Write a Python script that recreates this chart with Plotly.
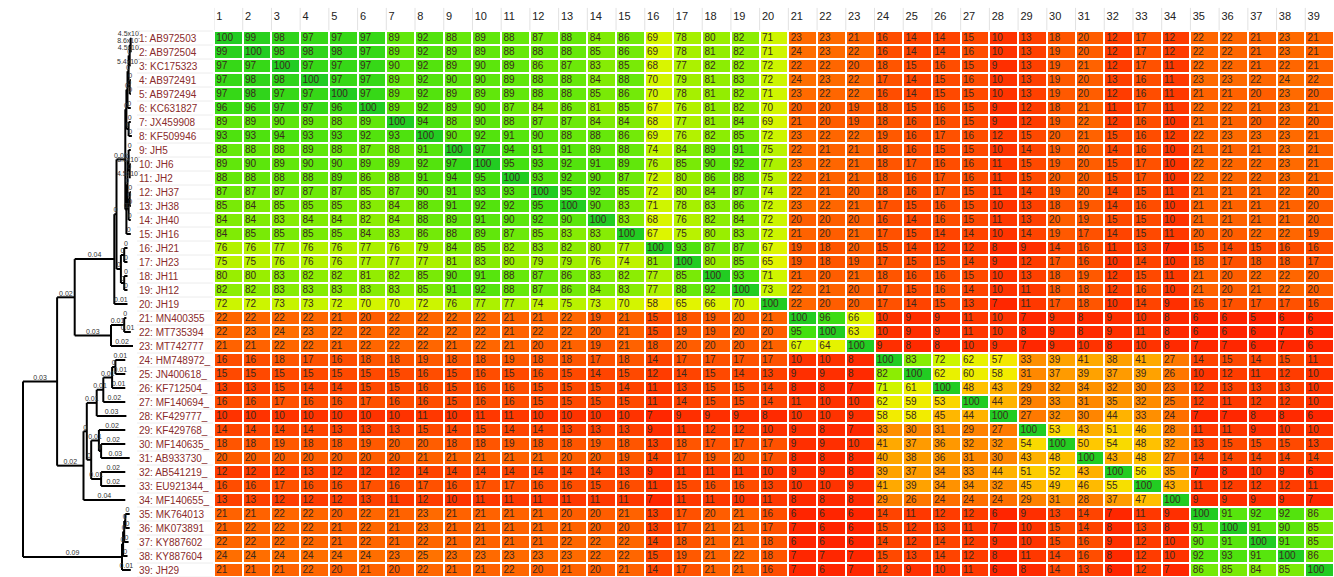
import numpy as np
import plotly.graph_objects as go

# ---------------------------------------------------------------- data
labels = [
    "1: AB972503", "2: AB972504", "3: KC175323", "4: AB972491", "5: AB972494",
    "6: KC631827", "7: JX459908", "8: KF509946", "9: JH5", "10: JH6",
    "11: JH2", "12: JH37", "13: JH38", "14: JH40", "15: JH16",
    "16: JH21", "17: JH23", "18: JH11", "19: JH12", "20: JH19",
    "21: MN400355", "22: MT735394", "23: MT742777", "24: HM748972_", "25: JN400618_",
    "26: KF712504_", "27: MF140694_", "28: KF429777_", "29: KF429768_", "30: MF140635_",
    "31: AB933730_", "32: AB541219_", "33: EU921344_", "34: MF140655_", "35: MK764013",
    "36: MK073891", "37: KY887602", "38: KY887604", "39: JH29",
]

column_numbers = list(range(1, 40))

identity = [
    [100, 99, 98, 97, 97, 97, 89, 92, 88, 89, 88, 87, 88, 84, 86, 69, 78, 80, 82, 71, 23, 23, 21, 16, 14, 14, 15, 10, 13, 18, 20, 12, 17, 12, 22, 22, 21, 23, 21],
    [99, 100, 98, 98, 98, 97, 89, 92, 89, 89, 88, 88, 88, 85, 86, 69, 78, 81, 82, 71, 24, 23, 22, 16, 14, 14, 16, 10, 13, 19, 20, 12, 17, 12, 22, 22, 21, 23, 21],
    [97, 97, 100, 97, 97, 97, 90, 92, 89, 90, 89, 86, 87, 83, 85, 68, 77, 82, 82, 72, 22, 22, 20, 18, 15, 16, 15, 9, 13, 19, 21, 12, 17, 11, 22, 22, 21, 22, 21],
    [97, 98, 98, 100, 97, 97, 89, 92, 90, 90, 89, 88, 88, 84, 88, 70, 79, 81, 83, 72, 24, 23, 22, 17, 14, 15, 16, 10, 13, 19, 20, 13, 16, 11, 23, 23, 22, 24, 22],
    [97, 98, 97, 97, 100, 97, 89, 92, 89, 89, 89, 88, 88, 85, 86, 70, 78, 81, 82, 71, 23, 22, 22, 16, 14, 15, 15, 10, 13, 19, 20, 12, 16, 11, 21, 21, 20, 23, 20],
    [96, 96, 97, 97, 96, 100, 89, 92, 89, 90, 87, 84, 86, 81, 85, 67, 76, 81, 82, 70, 20, 20, 19, 18, 15, 16, 15, 9, 12, 18, 21, 11, 17, 11, 22, 22, 21, 23, 21],
    [89, 89, 90, 89, 88, 89, 100, 94, 88, 90, 88, 87, 87, 84, 84, 68, 77, 81, 84, 69, 21, 20, 19, 18, 16, 16, 15, 9, 12, 19, 22, 12, 16, 10, 21, 21, 20, 22, 20],
    [93, 93, 94, 93, 93, 92, 93, 100, 90, 92, 91, 90, 88, 88, 86, 69, 76, 82, 85, 72, 23, 22, 22, 19, 16, 17, 16, 12, 15, 20, 21, 15, 16, 12, 22, 23, 23, 23, 21],
    [88, 88, 88, 89, 88, 87, 88, 91, 100, 97, 94, 91, 91, 89, 88, 74, 84, 89, 91, 75, 22, 21, 21, 18, 16, 15, 15, 10, 14, 19, 20, 14, 16, 10, 21, 21, 21, 23, 21],
    [89, 90, 89, 90, 90, 89, 89, 92, 97, 100, 95, 93, 92, 91, 89, 76, 85, 90, 92, 77, 23, 22, 21, 18, 17, 16, 16, 11, 15, 19, 20, 15, 17, 10, 22, 22, 22, 23, 21],
    [88, 88, 88, 88, 89, 86, 88, 91, 94, 95, 100, 93, 92, 90, 87, 72, 80, 86, 88, 75, 22, 21, 21, 18, 16, 17, 16, 11, 15, 20, 20, 15, 17, 10, 22, 22, 22, 23, 21],
    [87, 87, 87, 87, 87, 85, 87, 90, 91, 93, 93, 100, 95, 92, 85, 72, 80, 84, 87, 74, 22, 21, 20, 18, 16, 17, 15, 11, 14, 19, 20, 14, 15, 11, 21, 21, 21, 22, 20],
    [85, 84, 85, 85, 85, 83, 84, 88, 91, 92, 92, 95, 100, 90, 83, 71, 78, 83, 86, 72, 23, 22, 21, 17, 15, 16, 15, 10, 13, 18, 19, 14, 16, 10, 21, 21, 21, 21, 20],
    [84, 84, 83, 84, 84, 82, 84, 88, 89, 91, 90, 92, 90, 100, 83, 68, 76, 82, 84, 72, 20, 20, 20, 16, 14, 16, 15, 11, 13, 20, 19, 15, 15, 10, 21, 21, 21, 21, 20],
    [84, 85, 85, 85, 85, 84, 83, 86, 88, 89, 87, 85, 83, 83, 100, 67, 75, 80, 83, 72, 21, 20, 21, 17, 15, 14, 14, 10, 14, 19, 17, 14, 15, 11, 20, 20, 22, 22, 19],
    [76, 76, 77, 76, 76, 77, 76, 79, 84, 85, 82, 83, 82, 80, 77, 100, 93, 87, 87, 67, 19, 18, 20, 15, 14, 12, 12, 8, 9, 14, 16, 11, 13, 7, 15, 14, 15, 16, 16],
    [75, 75, 76, 76, 76, 77, 77, 77, 81, 83, 80, 79, 79, 76, 74, 81, 100, 80, 85, 65, 19, 18, 19, 17, 15, 15, 14, 9, 12, 17, 16, 10, 14, 10, 18, 17, 18, 18, 17],
    [80, 80, 83, 82, 82, 81, 82, 85, 90, 91, 88, 87, 86, 83, 82, 77, 85, 100, 93, 71, 21, 20, 21, 18, 16, 16, 15, 10, 13, 18, 19, 12, 15, 11, 21, 20, 22, 22, 20],
    [82, 82, 83, 83, 83, 83, 83, 85, 91, 92, 88, 87, 86, 84, 83, 77, 88, 92, 100, 73, 22, 21, 20, 17, 15, 16, 14, 10, 11, 18, 18, 12, 16, 10, 21, 20, 21, 22, 20],
    [72, 72, 73, 73, 72, 70, 70, 72, 76, 77, 77, 74, 75, 73, 70, 58, 65, 66, 70, 100, 22, 20, 20, 17, 14, 15, 13, 7, 11, 17, 18, 10, 14, 9, 16, 17, 17, 17, 16],
    [22, 22, 22, 22, 21, 20, 22, 22, 22, 22, 21, 21, 22, 19, 21, 15, 18, 19, 20, 21, 100, 96, 66, 10, 9, 9, 11, 10, 7, 9, 8, 9, 10, 8, 6, 6, 5, 6, 6],
    [22, 23, 24, 23, 22, 22, 22, 22, 22, 22, 21, 22, 22, 20, 21, 15, 19, 19, 20, 20, 95, 100, 63, 10, 9, 9, 11, 10, 8, 9, 8, 9, 11, 8, 6, 6, 6, 7, 6],
    [21, 21, 22, 22, 21, 22, 22, 22, 21, 22, 21, 20, 21, 19, 21, 18, 20, 20, 20, 21, 67, 64, 100, 9, 8, 8, 10, 9, 7, 9, 10, 8, 10, 8, 7, 7, 6, 7, 6],
    [16, 16, 18, 17, 16, 18, 18, 19, 18, 18, 19, 18, 18, 17, 18, 14, 17, 17, 17, 17, 10, 10, 8, 100, 83, 72, 62, 57, 33, 39, 41, 38, 41, 27, 14, 15, 14, 15, 11],
    [15, 15, 15, 15, 15, 15, 15, 16, 15, 16, 15, 16, 15, 14, 15, 12, 14, 15, 14, 13, 9, 9, 8, 82, 100, 62, 60, 58, 31, 37, 39, 37, 39, 26, 10, 12, 11, 12, 10],
    [13, 13, 15, 14, 14, 15, 15, 16, 15, 16, 16, 15, 15, 15, 14, 11, 13, 15, 15, 14, 8, 8, 7, 71, 61, 100, 48, 43, 29, 32, 34, 32, 30, 23, 12, 13, 13, 13, 10],
    [16, 16, 17, 16, 16, 17, 16, 16, 15, 16, 16, 15, 15, 15, 15, 11, 14, 15, 15, 14, 11, 10, 10, 62, 59, 53, 100, 44, 29, 33, 31, 35, 32, 25, 12, 11, 12, 12, 10],
    [10, 10, 10, 10, 10, 10, 10, 11, 10, 11, 11, 10, 10, 10, 10, 7, 9, 9, 9, 8, 10, 10, 9, 58, 58, 45, 44, 100, 27, 32, 30, 44, 33, 24, 7, 7, 8, 8, 6],
    [14, 14, 14, 14, 13, 13, 13, 15, 14, 15, 14, 14, 13, 13, 13, 9, 11, 12, 12, 10, 9, 8, 7, 33, 30, 31, 29, 27, 100, 53, 43, 51, 46, 28, 11, 11, 9, 10, 10],
    [18, 18, 19, 18, 18, 19, 20, 20, 18, 18, 19, 18, 18, 19, 18, 13, 18, 17, 17, 17, 9, 9, 10, 41, 37, 36, 32, 32, 54, 100, 50, 54, 48, 32, 13, 15, 15, 15, 13],
    [20, 20, 20, 20, 20, 20, 20, 21, 21, 21, 21, 21, 20, 20, 19, 14, 17, 19, 20, 17, 8, 8, 8, 40, 38, 36, 31, 30, 43, 48, 100, 43, 48, 27, 14, 14, 14, 14, 14],
    [12, 12, 12, 13, 12, 12, 12, 14, 14, 14, 14, 14, 14, 14, 13, 9, 11, 11, 11, 10, 9, 9, 8, 39, 37, 34, 33, 44, 51, 52, 43, 100, 56, 35, 7, 8, 10, 9, 6],
    [16, 16, 17, 16, 16, 17, 16, 17, 16, 17, 17, 16, 16, 15, 16, 11, 15, 16, 16, 13, 10, 10, 9, 41, 39, 34, 34, 32, 45, 49, 46, 55, 100, 43, 11, 12, 12, 12, 11],
    [13, 13, 12, 12, 12, 13, 11, 12, 10, 11, 11, 11, 11, 11, 11, 7, 11, 11, 10, 11, 8, 8, 8, 29, 26, 24, 24, 24, 29, 31, 28, 37, 47, 100, 9, 9, 9, 9, 7],
    [21, 21, 22, 22, 20, 22, 21, 23, 21, 21, 21, 21, 20, 20, 21, 13, 17, 20, 21, 16, 6, 6, 6, 14, 11, 12, 12, 6, 9, 13, 14, 7, 11, 9, 100, 91, 92, 92, 86],
    [21, 22, 22, 22, 21, 22, 21, 23, 21, 21, 21, 21, 21, 20, 20, 13, 17, 21, 21, 17, 7, 6, 6, 15, 12, 13, 11, 7, 10, 15, 14, 8, 13, 8, 91, 100, 91, 90, 85],
    [22, 22, 22, 22, 21, 22, 21, 22, 21, 21, 21, 21, 22, 22, 22, 14, 18, 21, 21, 18, 6, 6, 6, 14, 12, 14, 12, 9, 10, 15, 16, 9, 12, 10, 90, 91, 100, 91, 85],
    [24, 24, 24, 24, 24, 24, 23, 25, 23, 23, 23, 23, 23, 22, 22, 15, 19, 21, 22, 18, 7, 7, 7, 15, 13, 14, 12, 8, 11, 14, 16, 8, 12, 10, 92, 93, 91, 100, 86],
    [21, 21, 21, 22, 20, 21, 20, 22, 21, 21, 22, 20, 21, 20, 21, 14, 17, 21, 21, 16, 7, 6, 7, 12, 9, 10, 11, 6, 8, 14, 13, 6, 12, 7, 86, 85, 84, 85, 100],
]

# Guide tree in Newick form; tip names are row numbers, lengths are substitutions/site
clade_1_8 = ("(((((1:0.00045,2:0.00045):0.00086,3:0.00054):0.001,(4:0.001,5:0.001):0.001)"
             ":0.001,6:0.003):0.001,(7:0.002,8:0.003):0.002)")
clade_9_15 = ("(((9:0.002,(10:0.00086,11:0.00045):0.001):0.001,"
              "((12:0.001,13:0.001):0.001,14:0.002):0.001):0.001,15:0.004)")
clade_16_19 = "((16:0.003,17:0.003):0.003,(18:0.003,19:0.003):0.003)"
clade_1_20 = ("(((" + clade_1_8 + ":0.001," + clade_9_15 + ":0.001):0.008,"
              + clade_16_19 + ":0.004):0.002,20:0.012)")
clade_21_23 = "((21:0.002,22:0.006):0.012,23:0.02)"
clade_24_28 = "((((24:0.009,25:0.009):0.003,26:0.012):0.008,27:0.02):0.006,28:0.027)"
clade_29_33 = "((29:0.024,(30:0.022,31:0.026):0.002):0.007,(32:0.022,33:0.022):0.009)"
clade_24_34 = "((" + clade_24_28 + ":0.009," + clade_29_33 + ":0.004):0.003,34:0.038)"
clade_35_39 = "((((35:0.004,36:0.004):0.001,37:0.004):0.001,38:0.004):0.001,39:0.008)"
newick = ("(((" + clade_1_20 + ":0.036," + clade_21_23 + ":0.033):0.016,"
          + clade_24_34 + ":0.024):0.031," + clade_35_39 + ":0.09);")

# colour ramp (percent identity -> colour)
ramp = [
    (0, "#ff1400"), (8, "#ff2a00"), (12, "#ff3c00"), (18, "#ff5500"),
    (23, "#ff6a00"), (30, "#ff8500"), (40, "#ffa500"), (50, "#ffc800"),
    (58, "#f2ec00"), (66, "#e0f500"), (72, "#ccf500"), (80, "#99ee00"),
    (88, "#66e80a"), (95, "#44e010"), (100, "#22cc22"),
]


# ---------------------------------------------------------------- tree helpers
def parse_newick(s):
    pos = 0

    def node():
        nonlocal pos
        children = []
        if s[pos] == "(":
            pos += 1
            while True:
                children.append(node())
                if s[pos] == ",":
                    pos += 1
                    continue
                pos += 1  # ')'
                break
        start = pos
        while s[pos] not in ":,();":
            pos += 1
        name = s[start:pos]
        length = 0.0
        if s[pos] == ":":
            pos += 1
            start = pos
            while s[pos] not in ",();":
                pos += 1
            length = float(s[start:pos])
        return {"name": name, "length": length, "children": children}

    return node()


def place(n, x_parent):
    n["x"] = x_parent + n["length"]
    n["xp"] = x_parent
    if n["children"]:
        for c in n["children"]:
            place(c, n["x"])
        ys = [c["y"] for c in n["children"]]
        n["y"] = (min(ys) + max(ys)) / 2
    else:
        n["y"] = int(n["name"])


SUP = str.maketrans("-0123456789", "⁻⁰¹²³⁴⁵⁶⁷⁸⁹")


def fmt_length(v):
    if v == 0:
        return "0"
    if v < 0.001:
        e = int(np.floor(np.log10(v)))
        return f"{v / 10 ** e:.1f}x10" + str(e).translate(SUP)
    return f"{v:.2f}".rstrip("0").rstrip(".")


root = parse_newick(newick)
place(root, 0.0)

seg_x, seg_y = [], []
lab_x, lab_y, lab_t = [], [], []


def walk(n, is_root=False):
    if not is_root:
        seg_x.extend([n["xp"], n["x"], None])
        seg_y.extend([n["y"], n["y"], None])
        lab_x.append((n["xp"] + n["x"]) / 2)
        lab_y.append(n["y"])
        lab_t.append(fmt_length(n["length"]))
    if n["children"]:
        ys = [c["y"] for c in n["children"]]
        seg_x.extend([n["x"], n["x"], None])
        seg_y.extend([min(ys), max(ys), None])
        for c in n["children"]:
            walk(c)


walk(root, True)

# ---------------------------------------------------------------- figure
W, H = 1334, 577
n = len(labels)
z = np.array(identity)
colorscale = [[v / 100, c] for v, c in ramp]

fig = go.Figure()

# tree
fig.add_trace(go.Scatter(
    x=seg_x, y=seg_y, mode="lines", xaxis="x", yaxis="y",
    line=dict(color="#000000", width=2), hoverinfo="skip", showlegend=False,
))
fig.add_trace(go.Scatter(
    x=lab_x, y=lab_y, mode="text", text=lab_t, textposition="top center",
    textfont=dict(size=7, color="#333333", family="Liberation Sans"),
    xaxis="x", yaxis="y", hoverinfo="skip", showlegend=False,
))

# heatmap
cols = np.arange(1, n + 1)
fig.add_trace(go.Heatmap(
    z=z, x=cols, y=cols, xaxis="x2", yaxis="y",
    colorscale=colorscale, zmin=0, zmax=100, showscale=False,
    xgap=2, ygap=2, hoverinfo="skip",
))

# left-aligned numbers inside each cell
cx, cy, ct = [], [], []
for i in range(n):
    for j in range(n):
        cx.append(j + 1 - 0.42)
        cy.append(i + 1)
        ct.append(str(identity[i][j]))
fig.add_trace(go.Scatter(
    x=cx, y=cy, text=ct, mode="text", textposition="middle right",
    textfont=dict(size=10, color="#3a2a1e", family="Liberation Sans"),
    xaxis="x2", yaxis="y", hoverinfo="skip", showlegend=False,
))

# column header numbers
fig.add_trace(go.Scatter(
    x=[c - 0.42 for c in column_numbers], y=[-0.45] * n,
    text=[str(c) for c in column_numbers], mode="text", textposition="middle right",
    textfont=dict(size=11, color="#222222", family="Liberation Sans"),
    xaxis="x2", yaxis="y", hoverinfo="skip", showlegend=False,
))

shapes = []
for c in column_numbers:
    shapes.append(dict(type="line", xref="x2", yref="y", x0=c - 0.5, x1=c - 0.5,
                       y0=-1.15, y1=0.45, line=dict(color="#e2e2e2", width=1)))
for r in range(1, n + 2):
    shapes.append(dict(type="line", xref="paper", yref="y", x0=137 / W, x1=213 / W,
                       y0=r - 0.5, y1=r - 0.5, line=dict(color="#ececec", width=1)))

annotations = []
for r, lab in enumerate(labels, start=1):
    annotations.append(dict(
        x=139 / W, y=r, xref="paper", yref="y", text=lab, showarrow=False,
        xanchor="left", yanchor="middle", xshift=-2,
        font=dict(size=10, color="#8a2b2b", family="Liberation Sans"),
    ))

px_per_unit = 1100.0
fig.update_layout(
    width=W, height=H, margin=dict(l=0, r=0, t=0, b=0),
    paper_bgcolor="white", plot_bgcolor="white",
    xaxis=dict(domain=[0, 140 / W], range=[-23 / px_per_unit, 117 / px_per_unit],
               visible=False, fixedrange=True),
    xaxis2=dict(domain=[214 / W, 1.0], range=[0.5, n + 0.5], visible=False,
                fixedrange=True),
    yaxis=dict(domain=[0, 1], range=[n + 0.5, 1 - 38 / 14], visible=False,
               fixedrange=True),
    shapes=shapes, annotations=annotations,
)

fig.write_html("out.html")
